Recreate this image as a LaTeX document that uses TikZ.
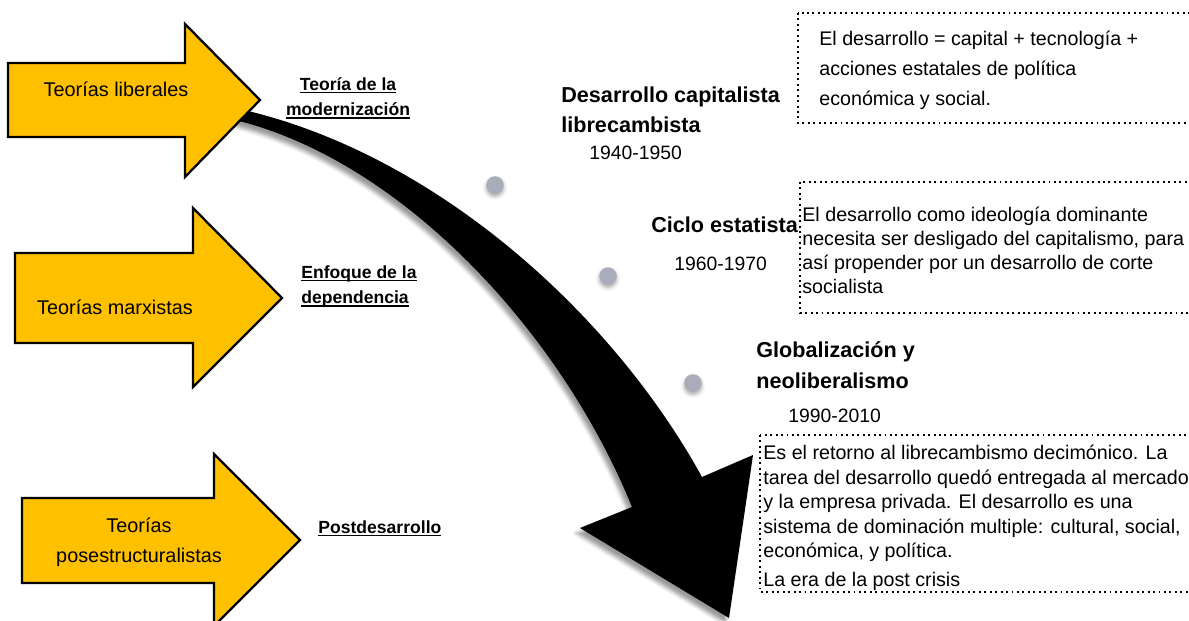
\documentclass[tikz,border=0pt]{standalone}
\usepackage{fontspec}
\setmainfont{Liberation Sans}
\usetikzlibrary{shadows.blur}
\definecolor{theoryyellow}{HTML}{FFC000}
\definecolor{dotgray}{HTML}{A9ADB9}
\newsavebox\ulbox
\newcommand{\ulabel}[1]{\sbox\ulbox{#1}\rlap{\rule[-1.8pt]{\wd\ulbox}{0.8pt}}\usebox\ulbox}
\begin{document}
\begin{tikzpicture}[x=0.02cm,y=-0.02cm,
    theory/.style={fill=theoryyellow,draw=black,line width=1.3pt,line join=miter},
    arrowtext/.style={font=\fontsize{11.3}{17}\selectfont,align=center,inner sep=0},
    approach/.style={font=\bfseries\fontsize{10}{14.5}\selectfont,align=left,inner sep=0},
    period/.style={font=\bfseries\fontsize{12.3}{17.6}\selectfont,align=left,inner sep=0},
    years/.style={font=\fontsize{11}{13}\selectfont,inner sep=0,anchor=base west},
    note/.style={draw=black,dotted,line width=1.1pt},
    notetext/.style={align=left,inner sep=0,anchor=north west},
    stage/.style={circle,fill=dotgray,minimum size=0.35cm,inner sep=0,
        blur shadow={shadow xshift=0pt,shadow yshift=-1.5pt,shadow opacity=35}}]
    \useasboundingbox (0,0) rectangle (1189,621);

    % dotted boxes, cut off at the right edge
    \draw[note] (798,13) rectangle (1200,123);
    \draw[note] (800,182) rectangle (1200,313);
    \draw[note] (760,435) rectangle (1200,592);

    % the big black arrow
    \fill[black,blur shadow={shadow xshift=-2pt,shadow yshift=-3pt,shadow opacity=40}]
        (235,108) .. controls (430,150) and (610,310) .. (702,477)
        -- (753,455) -- (729,618) -- (580,528) -- (632,507)
        .. controls (560,330) and (400,160) .. (235,120) -- cycle;

    % yellow arrows
    \filldraw[theory] (8,63)--(185,63)--(185,24)--(260,100)--(185,177)--(185,137)--(8,137)--cycle;
    \filldraw[theory] (15,253)--(193,253)--(193,208)--(282,298)--(193,387)--(193,343)--(15,343)--cycle;
    \filldraw[theory] (22,498)--(214,498)--(214,454)--(300,540)--(214,626)--(214,583)--(22,583)--cycle;
    \node[arrowtext,anchor=base] (liberales) at (116,97) {Teorías liberales};
    \node[arrowtext,anchor=base] (marxistas) at (115,315) {Teorías marxistas};
    \node[arrowtext,anchor=north] (posest) at (139,518) {Teorías\\posestructuralistas};

    % approaches
    \node[approach,align=center,anchor=north] (modern) at (348,77) {\ulabel{Teoría de la}\\\ulabel{modernización}};
    \node[approach,anchor=north west] (depend) at (301,265) {\ulabel{Enfoque de la}\\\ulabel{dependencia}};
    \node[approach,anchor=base west] (postdes) at (318,533) {\ulabel{Postdesarrollo}};

    % stages
    \node[stage] (d1) at (495,185) {};
    \node[stage] (d2) at (608,276) {};
    \node[stage] (d3) at (693,383) {};

    \node[period,anchor=north west] (capital) at (561,86) {Desarrollo capitalista\\librecambista};
    \node[years] (y1) at (589,160) {1940-1950};
    \node[period,anchor=base west] (estatista) at (651,233) {Ciclo estatista};
    \node[years] (y2) at (674,271) {1960-1970};
    \node[period,anchor=north west] (global) at (756,341) {Globalización y\\neoliberalismo};
    \node[years] (y3) at (788,422) {1990-2010};

    % notes
    \node[notetext,font=\fontsize{11.2}{17}\selectfont] (n1) at (819,31)
        {El desarrollo = capital + tecnología +\\acciones estatales de política\\económica y social.};
    \node[notetext,font=\fontsize{11.2}{13.6}\selectfont] (n2) at (802,207)
        {El desarrollo como ideología dominante\\necesita ser desligado del capitalismo, para\\así propender por un desarrollo de corte\\socialista};
    \node[notetext,font=\fontsize{11.2}{13.9}\selectfont] (n3) at (763,445)
        {Es el retorno al librecambismo decimónico. La\\tarea del desarrollo quedó entregada al mercado\\y la empresa privada. El desarrollo es una\\sistema de dominación multiple: cultural, social,\\económica, y política.\\[2.5pt]La era de la post crisis};
\end{tikzpicture}
\end{document}
